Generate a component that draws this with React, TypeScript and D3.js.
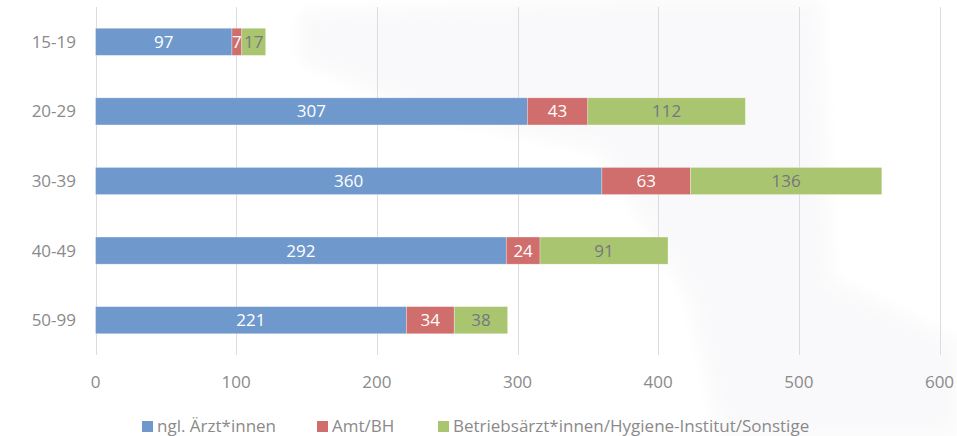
import React, { useEffect, useRef } from 'react';
import * as d3 from 'd3';

const ageGroups = ['15-19', '20-29', '30-39', '40-49', '50-99'];
const seriesNames = ['ngl. Ärzt*innen', 'Amt/BH', 'Betriebsärzt*innen/Hygiene-Institut/Sonstige'];
const nglAerzte = [97, 307, 360, 292, 221];
const amtBH = [7, 43, 63, 24, 34];
const sonstige = [17, 112, 136, 91, 38];
const xTicks = [0, 100, 200, 300, 400, 500, 600];

const colors = ['#6F99CC', '#CF6E6C', '#AAC56F'];
const labelColors = ['#FFFFFF', '#FFFFFF', '#767680'];

export default function App() {
    const svgRef = useRef<SVGSVGElement>(null);

    useEffect(() => {
        const width = 957;
        const height = 436;
        const svg = d3.select(svgRef.current);
        svg.selectAll('*').remove();
        svg.attr('width', width).attr('height', height);

        const font = '"Open Sans", sans-serif';

        // faint, soft watermark shape in the background
        svg.append('defs')
            .append('filter')
            .attr('id', 'soft')
            .attr('x', '-20%').attr('y', '-20%').attr('width', '140%').attr('height', '140%')
            .append('feGaussianBlur')
            .attr('stdDeviation', 8);

        const wm: [number, number][] = [
            [300, 12], [600, 0], [820, 0], [832, 280], [957, 340], [957, 436],
            [720, 436], [690, 300], [600, 150], [430, 115], [300, 60]
        ];
        svg.append('path')
            .attr('d', d3.line()(wm) + 'Z')
            .attr('fill', '#F9F9FB')
            .attr('filter', 'url(#soft)');

        const x = d3.scaleLinear().domain([0, 600]).range([95.5, 939.5]);
        const y = d3.scaleBand()
            .domain(ageGroups)
            .range([7, 355])
            .paddingInner(0.61)
            .paddingOuter(0.305);

        // gridlines
        svg.append('g')
            .selectAll('line')
            .data(xTicks)
            .enter().append('line')
            .attr('x1', d => Math.round(x(d)) + 0.5)
            .attr('x2', d => Math.round(x(d)) + 0.5)
            .attr('y1', 7)
            .attr('y2', 355)
            .attr('stroke', '#DCDCE0')
            .attr('stroke-width', 1);

        // tick labels
        svg.append('g')
            .selectAll('text')
            .data(xTicks)
            .enter().append('text')
            .attr('x', d => x(d))
            .attr('y', 382)
            .attr('dy', '0.35em')
            .attr('text-anchor', 'middle')
            .style('font-family', font)
            .style('font-size', '17px')
            .attr('fill', '#8A8A8A')
            .text(d => d);

        // category labels
        svg.append('g')
            .selectAll('text')
            .data(ageGroups)
            .enter().append('text')
            .attr('x', 76)
            .attr('y', d => (y(d) as number) + y.bandwidth() / 2)
            .attr('dy', '0.35em')
            .attr('text-anchor', 'end')
            .style('font-family', font)
            .style('font-size', '17px')
            .attr('fill', '#8A8A8A')
            .text(d => d);

        const rows = ageGroups.map((g, i) => ({ group: g, s0: nglAerzte[i], s1: amtBH[i], s2: sonstige[i] }));
        const stack = d3.stack<any>().keys(['s0', 's1', 's2']);
        const layers = stack(rows);

        layers.forEach((layer, li) => {
            const g = svg.append('g');
            g.selectAll('rect')
                .data(layer)
                .enter().append('rect')
                .attr('x', d => x(d[0]))
                .attr('width', d => x(d[1]) - x(d[0]))
                .attr('y', d => y(d.data.group) as number)
                .attr('height', y.bandwidth())
                .attr('fill', colors[li])
                .attr('stroke', '#FFFFFF')
                .attr('stroke-opacity', 0.5)
                .attr('stroke-width', 0.6);

            g.selectAll('text')
                .data(layer)
                .enter().append('text')
                .attr('x', d => (x(d[0]) + x(d[1])) / 2)
                .attr('y', d => (y(d.data.group) as number) + y.bandwidth() / 2)
                .attr('dy', '0.35em')
                .attr('text-anchor', 'middle')
                .style('font-family', font)
                .style('font-size', '17px')
                .attr('fill', labelColors[li])
                .text(d => d[1] - d[0]);
        });

        // legend
        const legendX = [142, 317, 438];
        const legend = svg.append('g')
            .selectAll('g')
            .data(seriesNames)
            .enter().append('g')
            .attr('transform', (d, i) => `translate(${legendX[i]},421)`);

        legend.append('rect')
            .attr('width', 11)
            .attr('height', 11)
            .attr('fill', (d, i) => colors[i]);

        legend.append('text')
            .attr('x', 15)
            .attr('y', 5.5)
            .attr('dy', '0.35em')
            .style('font-family', font)
            .style('font-size', '17px')
            .attr('fill', '#8A8A8A')
            .text(d => d);
    }, []);

    return (
        <div style={{ position: 'absolute', left: 0, top: 0, background: '#FFFFFF' }}>
            <svg ref={svgRef}></svg>
        </div>
    );
}
